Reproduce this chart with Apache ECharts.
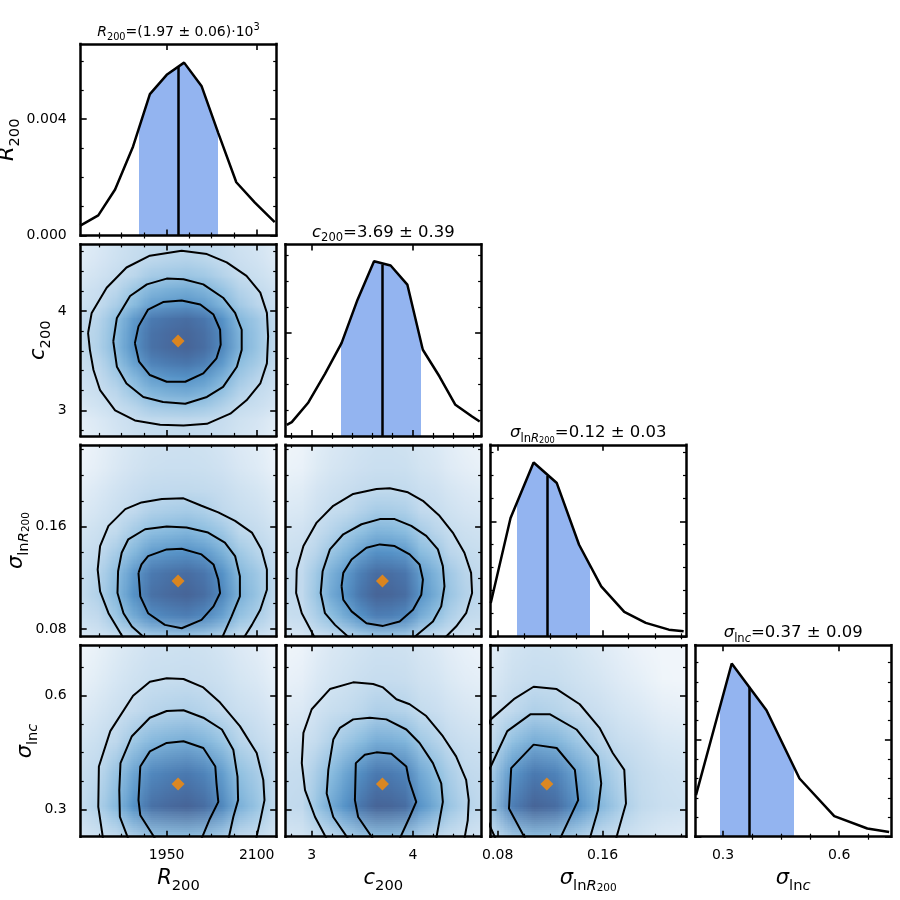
<!DOCTYPE html>
<html>
<head>
<meta charset="utf-8">
<script src="https://cdn.jsdelivr.net/npm/echarts@6/dist/echarts.min.js"></script>
<style>
  html, body { margin: 0; padding: 0; background: #fff; }
  #chart { width: 900px; height: 900px; }
</style>
</head>
<body>
<div id="chart"></div>
<script>
// ---- 1D marginals: vertices of the curves on the diagonal ----
var r200X = [1806, 1836, 1864, 1894, 1922, 1950, 1979, 2008, 2036, 2066, 2097, 2130];
var r200Y = [0.00034, 0.00069, 0.00158, 0.00306, 0.00486, 0.00552, 0.00594, 0.00514, 0.00352, 0.00183, 0.00113, 0.00046];
var c200X = [2.754, 2.803, 2.967, 3.131, 3.295, 3.453, 3.616, 3.780, 3.945, 4.098, 4.263, 4.420, 4.585, 4.660];
var c200Y = [0.064, 0.080, 0.195, 0.362, 0.541, 0.794, 1.018, 0.993, 0.882, 0.502, 0.346, 0.181, 0.113, 0.084];
var sigRX = [0.0747, 0.0898, 0.1074, 0.1251, 0.1421, 0.1590, 0.1766, 0.1930, 0.2106, 0.2219];
var sigRY = [2.90, 10.30, 15.13, 13.34, 7.97, 4.35, 2.12, 1.17, 0.58, 0.43];
var sigCX = [0.230, 0.3223, 0.4121, 0.4974, 0.5872, 0.6726, 0.7290];
var sigCY = [1.073, 4.478, 3.270, 1.505, 0.530, 0.212, 0.124];

// 16 / 50 / 84 percentiles and the height of the median line
var q16 = [1904, 3.288, 0.0949, 0.2923];
var q50 = [1969, 3.699, 0.1175, 0.3675];
var q84 = [2036, 4.083, 0.1502, 0.4828];
var medTop = [0.0058, 0.999, 13.97, 3.873];

// axis ranges and ticks per parameter
var axisMin = [1806.7, 2.742, 0.0745, 0.2285];
var axisMax = [2132.5, 4.674, 0.2237, 0.7335];
var majorTicks = [[1950, 2100], [3, 4], [0.08, 0.16], [0.3, 0.6]];
var minorTicks = [[1837.5, 1875, 1912.5, 1987.5, 2025, 2062.5], [2.8, 3.2, 3.4, 3.6, 3.8, 4.2, 4.4, 4.6],
                  [0.10, 0.12, 0.14, 0.18, 0.20, 0.22], [0.375, 0.45, 0.525, 0.675]];
var densMax = [0.00658, 1.116, 16.67, 4.95];
var densMajor = [[0, 0.004], [0, 0.6], [0, 10], [0, 2.5]];
var densMinor = [[0.001, 0.002, 0.003, 0.005, 0.006], [0.15, 0.3, 0.45, 0.75, 0.9, 1.05],
                 [2, 4, 6, 8, 12, 14, 16], [0.5, 1, 1.5, 2, 3, 3.5, 4, 4.5]];

// labels
var names = ['{i|R}{s|200}', '{i|c}{s|200}', '{i|σ}{s|ln}{si|R}{ss|200}', '{i|σ}{s|ln}{si|c}'];
var titles = ['{i|R}{s|200}{n|=(1.97 ± 0.06)·10}{p|3}', '{i|c}{s|200}{n|=3.69 ± 0.39}',
              '{i|σ}{s|ln}{si|R}{ss|200}{n|=0.12 ± 0.03}', '{i|σ}{s|ln}{si|c}{n|=0.37 ± 0.09}'];

// ---- contour lines (inner, middle, outer) ----
var contR200C200 = [
  [[1897,3.678],[1903,3.847],[1919,4.017],[1944,4.092],[1975,4.109],[2006,4.068],[2028,3.966],[2039,3.813],[2040,3.661],[2033,3.525],[2011,3.373],[1981,3.288],[1950,3.288],[1922,3.356],[1904,3.491],[1897,3.678]],
  [[1861,3.695],[1867,3.932],[1889,4.153],[1917,4.271],[1950,4.329],[1978,4.322],[2011,4.271],[2044,4.136],[2064,3.983],[2075,3.813],[2075,3.610],[2067,3.440],[2044,3.237],[2017,3.135],[1981,3.067],[1944,3.084],[1911,3.135],[1883,3.271],[1867,3.440],[1861,3.695]],
  [[1819,3.780],[1825,3.983],[1850,4.237],[1883,4.441],[1922,4.560],[1975,4.610],[2017,4.576],[2050,4.492],[2083,4.356],[2106,4.187],[2117,3.983],[2119,3.746],[2117,3.474],[2106,3.271],[2083,3.101],[2056,2.966],[2017,2.864],[1978,2.847],[1939,2.854],[1897,2.898],[1864,3.000],[1839,3.203],[1828,3.407],[1822,3.610],[1819,3.780]]
];
var contR200SigR = [
  [[1903,0.1239],[1908,0.1305],[1919,0.1370],[1950,0.1422],[1975,0.1427],[2008,0.1383],[2028,0.1305],[2036,0.1187],[2039,0.1082],[2028,0.0978],[2008,0.0873],[1975,0.0808],[1947,0.0834],[1919,0.0925],[1906,0.1056],[1903,0.1239]],
  [[1914,0.073],[1892,0.0821],[1878,0.0925],[1868,0.1082],[1869,0.1252],[1875,0.1396],[1886,0.1501],[1914,0.1579],[1950,0.1600],[1983,0.1592],[2019,0.1553],[2047,0.1475],[2064,0.1370],[2072,0.1213],[2072,0.1056],[2058,0.0899],[2042,0.073]],
  [[1878,0.073],[1853,0.0925],[1839,0.1095],[1835,0.1265],[1839,0.1448],[1853,0.1605],[1881,0.1736],[1908,0.1788],[1942,0.1814],[1978,0.1820],[2008,0.1762],[2036,0.1710],[2064,0.1644],[2092,0.1553],[2108,0.1422],[2117,0.1265],[2117,0.1108],[2106,0.0952],[2092,0.0834],[2078,0.073]]
];
var contC200SigR = [
  [[3.295,0.1135],[3.312,0.1239],[3.394,0.1344],[3.541,0.1435],[3.673,0.1461],[3.820,0.1448],[3.968,0.1383],[4.066,0.1305],[4.099,0.1187],[4.083,0.1069],[4.001,0.0952],[3.869,0.0860],[3.705,0.0826],[3.541,0.0847],[3.394,0.0939],[3.312,0.1030],[3.295,0.1135]],
  [[3.377,0.073],[3.230,0.0834],[3.131,0.0925],[3.089,0.1082],[3.108,0.1252],[3.180,0.1422],[3.312,0.1540],[3.492,0.1618],[3.673,0.1658],[3.820,0.1658],[3.984,0.1605],[4.132,0.1527],[4.247,0.1422],[4.296,0.1292],[4.312,0.1135],[4.280,0.0978],[4.198,0.0860],[4.001,0.073]],
  [[3.033,0.073],[2.902,0.0925],[2.846,0.1082],[2.852,0.1265],[2.918,0.1448],[3.049,0.1631],[3.213,0.1762],[3.410,0.1854],[3.640,0.1893],[3.771,0.1898],[3.951,0.1867],[4.099,0.1801],[4.263,0.1684],[4.394,0.1553],[4.509,0.1396],[4.575,0.1239],[4.585,0.1082],[4.526,0.0925],[4.427,0.0821],[4.312,0.073]]
];
var contR200SigC = [
  [[1931,0.2228],[1906,0.2849],[1903,0.3249],[1906,0.4136],[1922,0.4536],[1950,0.4757],[1978,0.4802],[2011,0.4624],[2031,0.4136],[2033,0.3692],[2036,0.3204],[2022,0.2760],[2008,0.2228]],
  [[1886,0.2228],[1872,0.2805],[1871,0.3515],[1873,0.4225],[1892,0.4935],[1922,0.5423],[1950,0.5601],[1978,0.5618],[2011,0.5423],[2042,0.5112],[2061,0.4580],[2068,0.3870],[2069,0.3249],[2061,0.2805],[2053,0.2228]],
  [[1844,0.2228],[1836,0.3071],[1837,0.4136],[1856,0.5068],[1894,0.6000],[1922,0.6373],[1950,0.6462],[1978,0.6444],[2011,0.6222],[2039,0.5822],[2072,0.5201],[2100,0.4491],[2111,0.3781],[2113,0.3249],[2106,0.2716],[2099,0.2228]]
];
var contC200SigC = [
  [[3.607,0.2228],[3.459,0.2805],[3.427,0.3249],[3.436,0.4225],[3.525,0.4447],[3.640,0.4509],[3.787,0.4473],[3.935,0.4136],[3.961,0.3781],[4.033,0.3204],[3.968,0.2805],[3.869,0.2228]],
  [[3.361,0.2228],[3.213,0.2805],[3.148,0.3426],[3.164,0.4047],[3.213,0.4846],[3.279,0.5157],[3.410,0.5379],[3.574,0.5423],[3.738,0.5379],[3.935,0.5112],[4.066,0.4757],[4.198,0.4225],[4.280,0.3692],[4.296,0.3204],[4.263,0.2716],[4.230,0.2228]],
  [[3.148,0.2228],[3.033,0.2805],[2.934,0.3515],[2.902,0.4225],[2.918,0.5024],[3.000,0.5645],[3.180,0.6178],[3.410,0.6355],[3.607,0.6311],[3.705,0.6222],[3.837,0.5911],[3.968,0.5778],[4.132,0.5467],[4.296,0.4935],[4.427,0.4402],[4.526,0.3781],[4.552,0.3249],[4.542,0.2716],[4.509,0.2228]]
];
var contSigRSigC = [
  [[0.1011,0.2228],[0.0886,0.3027],[0.0903,0.4092],[0.1074,0.4713],[0.1250,0.4624],[0.1389,0.4047],[0.1414,0.3249],[0.1275,0.2228]],
  [[0.0785,0.2228],[0.0709,0.2805],[0.0709,0.3959],[0.0747,0.4136],[0.0873,0.5068],[0.1049,0.5512],[0.1200,0.5512],[0.1401,0.5112],[0.1565,0.4402],[0.1590,0.3692],[0.1565,0.2982],[0.1502,0.2228]],
  [[0.0672,0.4846],[0.0747,0.5379],[0.0923,0.5911],[0.1074,0.6240],[0.1250,0.6178],[0.1426,0.5778],[0.1577,0.5157],[0.1678,0.4491],[0.1766,0.4047],[0.1779,0.3160],[0.1703,0.2228]]
];

// ---- styling / layout ----
var FONT = 'DejaVu Sans';
var FILL = '#93b4f0';
var GL = 80.7, GT = 44, GW = 195.5, GH = 191.5, SX = 204.9, SY = 200.4;
var margX = [r200X, c200X, sigRX, sigCX];
var margY = [r200Y, c200Y, sigRY, sigCY];
var contours = { '1-0': contR200C200, '2-0': contR200SigR, '2-1': contC200SigR,
                 '3-0': contR200SigC, '3-1': contC200SigC, '3-2': contSigRSigC };
var fmt = [function (v) { return v.toFixed(0); }, function (v) { return v.toFixed(0); },
           function (v) { return v.toFixed(2); }, function (v) { return v.toFixed(1); }];
var fmtDens = function (v) { return v.toFixed(3); };
var yNameGap = [54, 24, 48, 36];
var xNameGap = 27;

// colour ramp on log of the (marginal product) density
var heatStops = [[-6.5, [241, 246, 251]], [-2.48, [192, 217, 237]], [-1.39, [140, 190, 224]],
                 [-0.65, [85, 146, 199]], [-0.3, [74, 120, 175]], [0, [71, 101, 152]]];
function heatColor(l) {
  if (l <= heatStops[0][0]) return heatStops[0][1];
  for (var k = 1; k < heatStops.length; k++) {
    if (l <= heatStops[k][0]) {
      var a = heatStops[k - 1], b = heatStops[k], t = (l - a[0]) / (b[0] - a[0]);
      return [0, 1, 2].map(function (m) { return Math.round(a[1][m] + t * (b[1][m] - a[1][m])); });
    }
  }
  return heatStops[heatStops.length - 1][1];
}

function heatCanvas(cx, ry) {
  var xs = margY[cx], ys = margY[ry];
  var mx = Math.max.apply(null, xs), my = Math.max.apply(null, ys);
  var nx = xs.length, ny = ys.length;
  var cv = document.createElement('canvas');
  cv.width = nx; cv.height = ny;
  var ctx = cv.getContext('2d');
  var img = ctx.createImageData(nx, ny);
  for (var j = 0; j < ny; j++) {
    for (var i = 0; i < nx; i++) {
      var z = (xs[i] / mx) * (ys[j] / my);
      var col = heatColor(Math.log(z));
      var p = ((ny - 1 - j) * nx + i) * 4;
      img.data[p] = col[0]; img.data[p + 1] = col[1]; img.data[p + 2] = col[2]; img.data[p + 3] = 255;
    }
  }
  ctx.putImageData(img, 0, 0);
  return cv;
}

function halfStepExtent(arr) {
  var d = (arr[arr.length - 1] - arr[0]) / (arr.length - 1);
  return [arr[0] - d / 2, arr[arr.length - 1] + d / 2];
}

function richSet(b) {
  var L = Math.round(b * 1.45), sb = b * 0.7, ssb = b * 0.5;
  function st(size, lh, italic, va) {
    return { fontSize: size, lineHeight: lh, fontFamily: FONT, fontStyle: italic ? 'italic' : 'normal',
             color: '#000', verticalAlign: va };
  }
  return {
    n: st(b, L, false, 'middle'),
    i: st(b, L, true, 'middle'),
    s: st(sb, L - 0.62 * b, false, 'bottom'),
    si: st(sb, L - 0.62 * b, true, 'bottom'),
    ss: st(ssb, Math.max(4, L - 1.054 * b), false, 'bottom'),
    p: st(sb, L - 0.62 * b, false, 'top')
  };
}

// four axes per direction: two framed ones with major ticks, two tick-only ones for minor ticks
function axesFor(dim, gi, min, max, majors, minors, labelOn, labelFmt, nameIdx, gap) {
  var sides = dim === 'x' ? ['bottom', 'top'] : ['left', 'right'];
  var out = [];
  sides.forEach(function (pos, k) {
    var ax = {
      type: 'value', gridIndex: gi, position: pos, min: min, max: max, z: 10,
      axisLine: { show: true, onZero: false, lineStyle: { color: '#000', width: 2.5, cap: 'square' } },
      axisTick: { show: true, inside: true, length: 6, customValues: majors, lineStyle: { color: '#000', width: 1.6 } },
      axisLabel: { show: labelOn && k === 0, customValues: majors, formatter: labelFmt, color: '#000',
                   fontSize: 14, fontFamily: FONT, margin: dim === 'x' ? 12 : 14 },
      splitLine: { show: false }
    };
    if (k === 0 && nameIdx != null) {
      ax.name = names[nameIdx];
      ax.nameLocation = 'middle';
      ax.nameGap = gap;
      if (dim === 'y') ax.nameRotate = 90;
      ax.nameTextStyle = { fontSize: 21, fontFamily: FONT, color: '#000', rich: richSet(21) };
    }
    out.push(ax);
  });
  sides.forEach(function (pos) {
    out.push({
      type: 'value', gridIndex: gi, position: pos, min: min, max: max, z: 10,
      axisLine: { show: false },
      axisTick: { show: true, inside: true, length: 3, customValues: minors, lineStyle: { color: '#000', width: 1.2 } },
      axisLabel: { show: false }, splitLine: { show: false }
    });
  });
  return out;
}

var grids = [], xAxes = [], yAxes = [], series = [], visualMaps = [], titleList = [];
var gi = 0;
for (var r = 0; r < 4; r++) {
  for (var c = 0; c <= r; c++) {
    grids.push({ left: GL + SX * c, top: GT + SY * r, width: GW, height: GH, show: false,
                 containLabel: false, outerBoundsMode: 'none' });
    xAxes = xAxes.concat(axesFor('x', gi, axisMin[c], axisMax[c], majorTicks[c], minorTicks[c],
                                 r === 3, fmt[c], r === 3 ? c : null, xNameGap));
    var ax = 4 * gi;
    if (r === c) {
      yAxes = yAxes.concat(axesFor('y', gi, 0, densMax[c], densMajor[c], densMinor[c],
                                   c === 0, fmtDens, c === 0 ? r : null, yNameGap[r]));
      var pts = margX[c].map(function (x, k) { return [x, margY[c][k]]; });
      visualMaps.push({
        type: 'piecewise', show: false, dimension: 0, seriesIndex: series.length,
        pieces: [{ gte: q16[c], lte: q84[c], color: FILL }],
        outOfRange: { color: 'rgba(255,255,255,0)' }
      });
      series.push({
        type: 'line', xAxisIndex: ax, yAxisIndex: ax, data: pts, symbol: 'none', showSymbol: false,
        lineStyle: { width: 0 }, areaStyle: { opacity: 1 }, z: 2, silent: true
      });
      series.push({
        type: 'line', xAxisIndex: ax, yAxisIndex: ax, data: pts, symbol: 'none', showSymbol: false,
        lineStyle: { color: '#000', width: 2.5 }, z: 4, silent: true,
        markLine: {
          silent: true, symbol: ['none', 'none'], label: { show: false }, animation: false,
          lineStyle: { color: '#000', width: 2.5, type: 'solid' },
          emphasis: { disabled: true },
          data: [[{ coord: [q50[c], 0] }, { coord: [q50[c], medTop[c]] }]]
        }
      });
      var tSize = c === 0 ? 14 : 16.5;
      titleList.push({
        text: titles[c], left: GL + SX * c + GW / 2, top: GT + SY * r - 12,
        textAlign: 'center', textVerticalAlign: 'middle', padding: 0,
        textStyle: { fontSize: tSize, fontFamily: FONT, fontWeight: 'normal', color: '#000', rich: richSet(tSize) }
      });
    } else {
      yAxes = yAxes.concat(axesFor('y', gi, axisMin[r], axisMax[r], majorTicks[r], minorTicks[r],
                                   c === 0, fmt[r], c === 0 ? r : null, yNameGap[r]));
      var ex = halfStepExtent(margX[c]), ey = halfStepExtent(margX[r]);
      (function (cv) {
        series.push({
          type: 'custom', xAxisIndex: ax, yAxisIndex: ax, z: 1, silent: true,
          data: [[ex[0], ey[0], ex[1], ey[1]]],
          renderItem: function (params, api) {
            var p0 = api.coord([api.value(0), api.value(3)]);
            var p1 = api.coord([api.value(2), api.value(1)]);
            var cs = params.coordSys;
            return {
              type: 'image',
              style: { image: cv, x: p0[0], y: p0[1], width: p1[0] - p0[0], height: p1[1] - p0[1] },
              clipPath: { type: 'rect', shape: { x: cs.x, y: cs.y, width: cs.width, height: cs.height } }
            };
          }
        });
      })(heatCanvas(c, r));
      contours[r + '-' + c].forEach(function (line) {
        series.push({
          type: 'line', xAxisIndex: ax, yAxisIndex: ax, data: line, symbol: 'none', showSymbol: false,
          lineStyle: { color: '#000', width: 2 }, z: 3, silent: true
        });
      });
      series.push({
        type: 'scatter', xAxisIndex: ax, yAxisIndex: ax, data: [[q50[c], q50[r]]],
        symbol: 'diamond', symbolSize: 13, itemStyle: { color: '#ff8c00' }, z: 5, silent: true
      });
    }
    gi++;
  }
}

var chart = echarts.init(document.getElementById('chart'), null, { renderer: 'canvas' });
chart.setOption({
  animation: false,
  backgroundColor: '#fff',
  title: titleList,
  grid: grids,
  xAxis: xAxes,
  yAxis: yAxes,
  visualMap: visualMaps,
  series: series
});
</script>
</body>
</html>
